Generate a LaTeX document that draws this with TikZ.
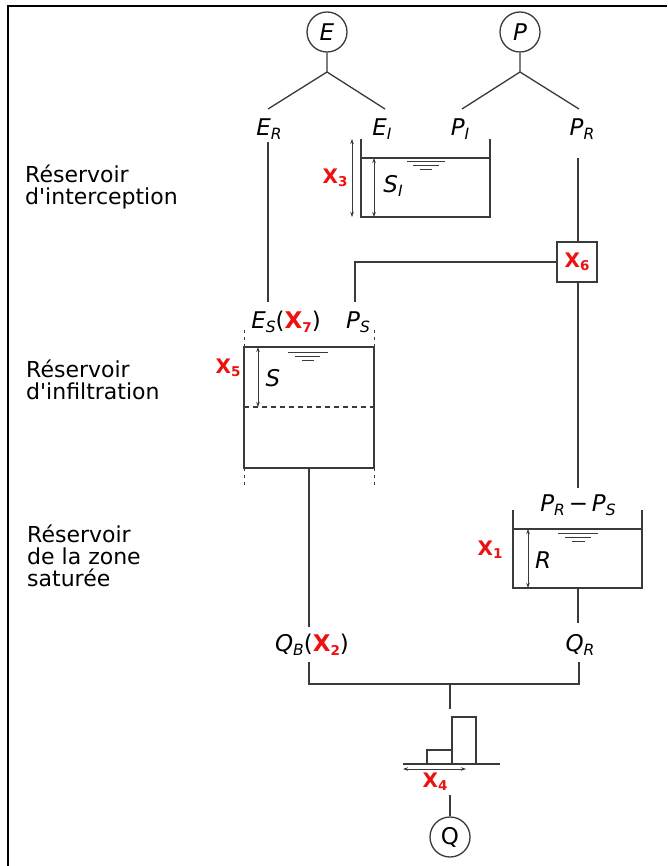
\documentclass[tikz,border=0pt]{standalone}
\usepackage{fontspec}
\setmainfont{DejaVu Sans}
\usetikzlibrary{arrows.meta}
\definecolor{ln}{HTML}{3A3A3A}
\definecolor{xred}{HTML}{EE1111}
\newcommand\lab[2]{{\itshape #1\raisebox{-0.35ex}{\fontsize{15.5}{15.5}\selectfont #2}}}
\newcommand\xr[1]{{\color{xred}\bfseries X\raisebox{-0.3ex}{\fontsize{13.5}{13.5}\selectfont #1}}}
\newcommand\apos{\textquotesingle}
\begin{document}
\begin{tikzpicture}[x=1pt,y=-1pt,
  every node/.style={font=\fontsize{23}{23}\selectfont, inner sep=0pt},
  wire/.style={draw=ln, line width=1.3pt},
  circ/.style={draw=ln, line width=1.3pt, circle, minimum size=40pt},
  dimarrow/.style={draw=ln, line width=0.8pt, {Stealth[length=5pt,width=3.5pt]}-{Stealth[length=5pt,width=3.5pt]}},
  surf/.style={draw=ln, line width=1pt},
  dots/.style={draw=ln, line width=1pt, dash pattern=on 3pt off 4pt},
  side/.style={font=\fontsize{22}{22}\selectfont, align=left, anchor=base west},
  xlab/.style={font=\fontsize{20}{20}\selectfont}]
\useasboundingbox (0,0) rectangle (667,866);
\fill[white] (0,0) rectangle (667,866);
\draw[line width=2.5pt, black] (8,866) -- (8,6) -- (667,6);

% side texts (anchored at last baseline)
\node[side] (t1) at (25,205) {Réservoir\\d\apos interception};
\node[side] (t2) at (26,399) {Réservoir\\d\apos infiltration};
\node[side] (t3) at (27,586) {Réservoir\\de la zone\\saturée};

% inputs
\node[circ] (E) at (327,32) {\itshape E};
\node[circ] (P) at (520,32) {\itshape P};
\coordinate (eb) at (327,72);
\coordinate (pb) at (520,72);
\coordinate (erT) at (268,109);
\coordinate (eiT) at (385,109);
\coordinate (piT) at (462,109);
\coordinate (prT) at (579,109);
\draw[wire] (E) -- (eb) -- (erT);
\draw[wire] (eb) -- (eiT);
\draw[wire] (P) -- (pb) -- (piT);
\draw[wire] (pb) -- (prT);

\node (ER) at (269,129) {\lab{E}{R}};
\node (EI) at (382,129) {\lab{E}{I}};
\node (PI) at (460,129) {\lab{P}{I}};
\node (PR) at (582,129) {\lab{P}{R}};

% interception reservoir
\draw[wire] (361,139) -- (361,217) -- (490,217) -- (490,139);
\draw[wire] (361,158) -- (490,158);
\draw[surf] (407,162) -- (445,162) (413,166) -- (439,166) (420,170) -- (432,170);
\draw[dimarrow] (352,139) -- (352,217);
\draw[dimarrow] (374,158) -- (374,217);
\node[xlab] (X3) at (335,178) {\xr{3}};
\node (SI) at (393,186) {\lab{S}{I}};

% X6 split
\node[draw=ln, line width=1.3pt, minimum size=40pt, xlab] (X6) at (577,262) {\xr{6}};
\coordinate (prL) at (578,158);
\draw[wire] (prL) -- (X6.north -| prL);
\coordinate (psC) at (355,262);
\coordinate (psB) at (355,302);
\draw[wire] (X6.west) -- (psC) -- (psB);
\coordinate (erL) at (268,142);
\coordinate (erB) at (268,302);
\draw[wire] (erL) -- (erB);

\node (ES) at (286,322) {\lab{E}{S}(\xr{7})};
\node (PS) at (358,322) {\lab{P}{S}};

% infiltration reservoir
\draw[wire] (244,347) rectangle (374,468);
\draw[draw=ln, line width=1.3pt, dash pattern=on 5pt off 4pt] (244,407) -- (374,407);
\draw[dots] (244,330) -- (244,347) (374,330) -- (374,347) (244,468) -- (244,487) (374,468) -- (374,487);
\draw[surf] (288,352) -- (328,352) (295,356) -- (320,356) (302,360) -- (314,360);
\draw[dimarrow] (258,347) -- (258,407);
\node (S) at (273,378) {\itshape S};
\node[xlab] (X5) at (228,368) {\xr{5}};

% routing reservoir
\coordinate (prB) at (578,488);
\draw[wire] (X6.south -| prB) -- (prB);
\node (PRPS) at (578,505) {\lab{P}{R}\,−\,\lab{P}{S}};
\draw[wire] (513,510) -- (513,588) -- (642,588) -- (642,510);
\draw[wire] (513,529) -- (642,529);
\draw[surf] (558,533) -- (598,533) (565,537) -- (591,537) (572,541) -- (585,541);
\draw[dimarrow] (528,529) -- (528,588);
\node (R) at (543,560) {\itshape R};
\node[xlab] (X1) at (490,550) {\xr{1}};

% outputs
\coordinate (qbT) at (309,468);
\coordinate (qbA) at (309,627);
\draw[wire] (qbT) -- (qbA);
\node (QB) at (312,645) {\lab{Q}{B}(\xr{2})};
\coordinate (qrT) at (578,588);
\coordinate (qrA) at (578,623);
\draw[wire] (qrT) -- (qrA);
\node (QR) at (580,645) {\lab{Q}{R}};
\coordinate (qbC) at (309,662);
\coordinate (qrC) at (579,662);
\coordinate (jl) at (309,684);
\coordinate (jr) at (579,684);
\coordinate (jm) at (450,684);
\coordinate (jmB) at (450,709);
\draw[wire] (qbC) -- (jl) -- (jr) -- (qrC);
\draw[wire] (jm) -- (jmB);

% unit hydrograph
\draw[wire] (427,764) -- (427,750) -- (452,750) -- (452,764);
\draw[wire] (452,764) -- (452,717) -- (476,717) -- (476,764);
\draw[wire] (403,764) -- (500,764);
\draw[dimarrow] (403,769) -- (466,769);
\node[xlab] (X4) at (435,782) {\xr{4}};
\node[circ] (Q) at (450,837) {Q};
\coordinate (qS) at (450,795);
\draw[wire] (qS) -- (Q);
\end{tikzpicture}
\end{document}
